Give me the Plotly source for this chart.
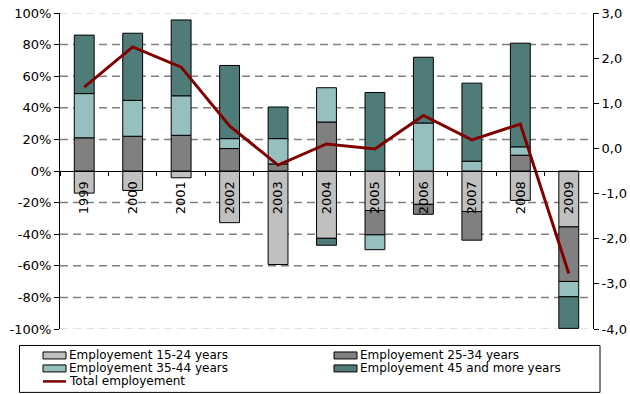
import plotly.graph_objects as go

# Employment change by age group (%, left axis) and total employment (right axis)
years = ["1999", "2000", "2001", "2002", "2003", "2004", "2005", "2006", "2007", "2008", "2009"]
emp_15_24 = [-14.0, -12.3, -4.3, -32.7, -59.2, -42.6, -25.0, -21.1, -25.7, -18.6, -35.4]
emp_25_34 = [21.0, 22.0, 22.6, 14.2, 4.5, 31.0, -15.4, -6.3, -18.1, 10.0, -34.5]
emp_35_44 = [28.0, 22.7, 25.0, 6.3, 16.0, 21.7, -9.4, 30.4, 6.2, 5.3, -9.7]
emp_45_plus = [37.0, 42.5, 48.0, 46.3, 20.0, -4.4, 49.7, 41.6, 49.4, 65.6, -20.0]
total_emp = [1.36, 2.25, 1.80, 0.50, -0.37, 0.10, -0.01, 0.73, 0.19, 0.54, -2.77]

series_names = ["Employement 15-24 years", "Employement 25-34 years",
                "Employement 35-44 years", "Employement 45 and more years"]
series_colors = ["#C0C0C0", "#808080", "#96BFC0", "#4F7B79"]
line_name = "Total employement"
line_color = "#800000"

left_ticks = [100, 80, 60, 40, 20, 0, -20, -40, -60, -80, -100]
right_ticks = [3, 2, 1, 0, -1, -2, -3, -4]

FONT = "DejaVu Sans"
W, H = 630, 394
M_L, M_R, M_T, M_B = 60, 37, 13, 64.5

fig = go.Figure()
for name, vals, col in zip(series_names, [emp_15_24, emp_25_34, emp_35_44, emp_45_plus], series_colors):
    fig.add_trace(go.Bar(x=years, y=vals, name=name, marker=dict(color=col, line=dict(color="#000000", width=1)),
                         showlegend=False))
fig.add_trace(go.Scatter(x=years, y=total_emp, name=line_name, mode="lines",
                         line=dict(color=line_color, width=3), yaxis="y2", showlegend=False))

# dashed horizontal gridlines for the left axis
shapes = []
for v in left_ticks:
    if v == 0:
        continue
    edge = abs(v) == 100
    shapes.append(dict(type="line", xref="paper", yref="y", x0=0, x1=1, y0=v, y1=v, layer="below",
                       line=dict(color="#D9D9D9" if edge else "#808080", width=1.5, dash="8px,5px")))

# legend drawn as a framed box below the plot
pw = W - M_L - M_R
ph = H - M_T - M_B


def px_x(px):
    return (px - M_L) / pw


def px_y(py):
    return (H - M_B - py) / ph


shapes.append(dict(type="rect", xref="paper", yref="paper", x0=px_x(19.5), x1=px_x(600), y0=px_y(393), y1=px_y(346),
                   line=dict(color="#000000", width=1), fillcolor="rgba(0,0,0,0)"))
annotations = []
col_x = [43, 334]
row_y = [356, 369, 382]
entries = [(n, c, "bar") for n, c in zip(series_names, series_colors)] + [(line_name, line_color, "line")]
for i, (name, col, kind) in enumerate(entries):
    r, c = divmod(i, 2)
    sx, sy = col_x[c], row_y[r]
    if kind == "bar":
        shapes.append(dict(type="rect", xref="paper", yref="paper", x0=px_x(sx), x1=px_x(sx + 23),
                           y0=px_y(sy + 3.5), y1=px_y(sy - 3.5), fillcolor=col,
                           line=dict(color="#000000", width=1)))
    else:
        shapes.append(dict(type="line", xref="paper", yref="paper", x0=px_x(sx), x1=px_x(sx + 23),
                           y0=px_y(sy), y1=px_y(sy), line=dict(color=col, width=2.5)))
    annotations.append(dict(text=name, xref="paper", yref="paper", x=px_x(sx + 24), y=px_y(sy),
                            xanchor="left", yanchor="middle", showarrow=False,
                            font=dict(family=FONT, size=12, color="#000000")))

fig.update_layout(
    width=W, height=H,
    margin=dict(l=M_L, r=M_R, t=M_T, b=M_B, pad=0, autoexpand=False),
    paper_bgcolor="white", plot_bgcolor="white",
    barmode="relative", bargap=0.59,
    font=dict(family=FONT, size=13, color="#000000"),
    shapes=shapes, annotations=annotations,
    xaxis=dict(anchor="free", position=0.5, showline=True, linecolor="#000000", linewidth=1,
               ticks="outside", ticklen=4, tickcolor="#000000", tickson="boundaries",
               tickangle=-90, showgrid=False, zeroline=False, ticklabelstandoff=4, automargin=False),
    yaxis=dict(range=[-100, 100], tickvals=left_ticks,
               ticktext=[f"{v}%" for v in left_ticks], automargin=False,
               showline=True, linecolor="#000000", linewidth=1, ticks="outside", ticklen=5,
               tickcolor="#000000", showgrid=False, zeroline=False),
    yaxis2=dict(range=[-4, 3], overlaying="y", side="right", tickvals=right_ticks,
                ticktext=[f"{v:.1f}".replace(".", ",") for v in right_ticks], automargin=False,
                showline=True, linecolor="#000000", linewidth=1, ticks="outside", ticklen=5,
                tickcolor="#000000", showgrid=False, zeroline=False),
)

fig.write_html("out.html")
